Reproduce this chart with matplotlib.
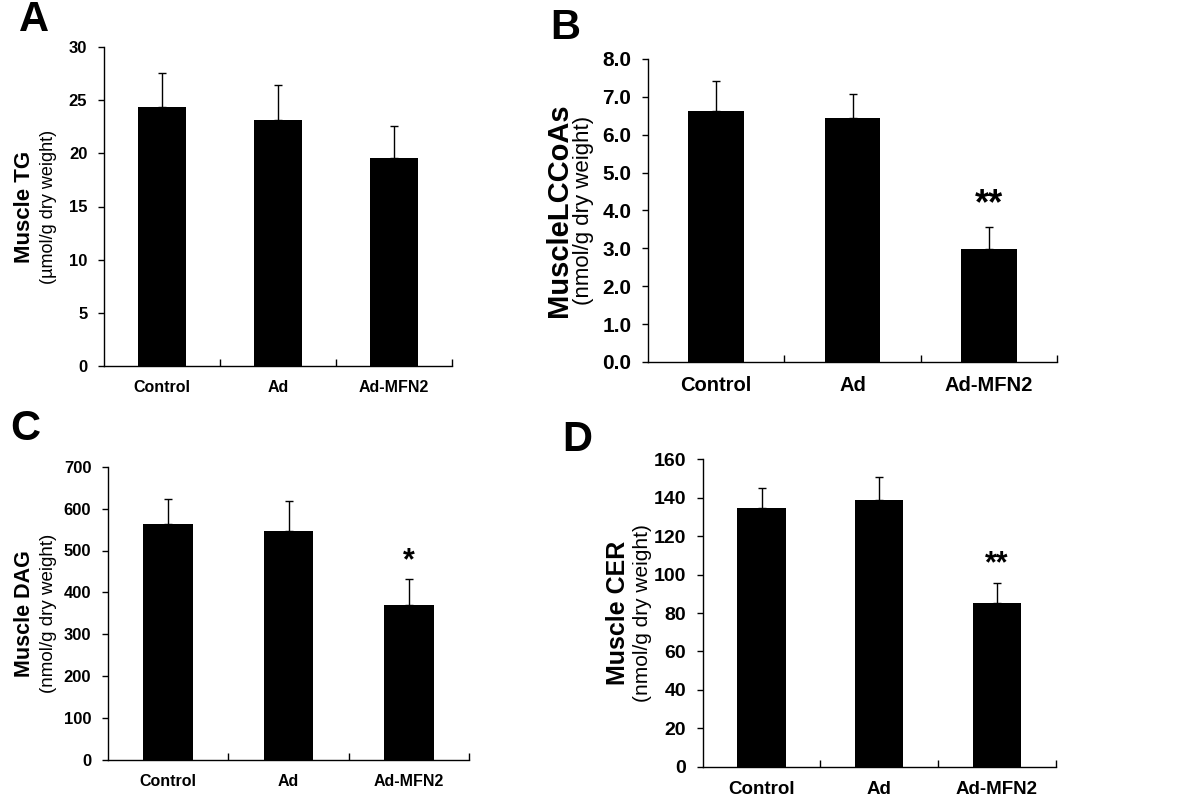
import numpy as np
import matplotlib
matplotlib.use("Agg")
import matplotlib.pyplot as plt

plt.rcParams['font.family'] = ['Liberation Sans', 'DejaVu Sans']

groups = ["Control", "Ad", "Ad-MFN2"]

# values (mean, upper SE)
tg_mean = [24.4, 23.1, 19.6]
tg_err = [3.2, 3.3, 3.0]
lccoa_mean = [6.63, 6.44, 2.99]
lccoa_err = [0.78, 0.64, 0.57]
dag_mean = [563, 546, 369]
dag_err = [60, 72, 63]
cer_mean = [134.5, 138.8, 85.4]
cer_err = [10.7, 12.0, 10.1]

sig_lccoa = ["", "", "**"]
sig_dag = ["", "", "*"]
sig_cer = ["", "", "**"]

fig = plt.figure(figsize=(12, 8.07), dpi=100)


def panel(rect, means, errs, sig, ymax, ystep, fmt, main, sub, letter, letter_xy,
          tick_fs, xlab_fs, main_fs, sub_fs, lab_x, sig_fs, sig_off):
    ax = fig.add_axes(rect)
    x = np.arange(len(groups)) + 0.5
    ax.bar(x, means, width=0.41, color="black", zorder=2)
    ax.errorbar(x, means, yerr=[np.zeros(len(errs)), errs], fmt="none",
                ecolor="black", elinewidth=1.0, capsize=3, capthick=1.0, zorder=1)
    ax.set_xlim(0, 3)
    ax.set_ylim(0, ymax)
    yt = np.arange(0, ymax + ystep / 2, ystep)
    ax.set_yticks(yt)
    ax.set_yticklabels([fmt.format(v) for v in yt], fontsize=tick_fs, fontweight="bold")
    ax.set_xticks(x)
    ax.set_xticklabels(groups, fontsize=xlab_fs, fontweight="bold")
    ax.tick_params(axis="x", length=0, pad=10)
    ax.set_xticks([1, 2, 3], minor=True)
    ax.tick_params(axis="x", which="minor", length=5, direction="in", width=1)
    ax.tick_params(axis="y", length=4, width=1, pad=8)
    for s in ["top", "right"]:
        ax.spines[s].set_visible(False)
    for s in ["left", "bottom"]:
        ax.spines[s].set_linewidth(1.0)
    for xi, m, e, s in zip(x, means, errs, sig):
        if s:
            ax.annotate(s, (xi, m + e), xytext=(0, sig_off), textcoords="offset points",
                        ha="center", va="center", fontsize=sig_fs, fontweight="bold")
    ax.text(lab_x[0], 0.5, main, transform=ax.transAxes, rotation=90, ha="center",
            va="center", fontsize=main_fs, fontweight="bold")
    ax.text(lab_x[1], 0.5, sub, transform=ax.transAxes, rotation=90, ha="center",
            va="center", fontsize=sub_fs)
    fig.text(letter_xy[0] / 1200, 1 - letter_xy[1] / 807, letter, ha="center",
             va="center", fontsize=30, fontweight="bold")
    return ax


panel([104 / 1200, 1 - 366 / 807, 348 / 1200, 319 / 807], tg_mean, tg_err, ["", "", ""],
      30, 5, "{:.0f}", "Muscle TG", "(\u00b5mol/g dry weight)", "A", (34, 20),
      12, 11.5, 16, 13, ((25 - 104) / 348, (49 - 104) / 348), 22, 10)

panel([648 / 1200, 1 - 362 / 807, 409 / 1200, 303 / 807], lccoa_mean, lccoa_err, sig_lccoa,
      8, 1, "{:.1f}", "MuscleLCCoAs", "(nmol/g dry weight)", "B", (565, 28),
      15, 14.5, 21, 16, ((559 - 648) / 409, (584 - 648) / 409), 26, 16)

panel([108 / 1200, 1 - 760 / 807, 361 / 1200, 293.3 / 807], dag_mean, dag_err, sig_dag,
      700, 100, "{:.0f}", "Muscle DAG", "(nmol/g dry weight)", "C", (25, 429),
      12, 11.5, 15.5, 13.5, ((25 - 108) / 361, (49 - 108) / 361), 22, 13)

panel([702.7 / 1200, 1 - 766.7 / 807, 353 / 1200, 307.4 / 807], cer_mean, cer_err, sig_cer,
      160, 20, "{:.0f}", "Muscle CER", "(nmol/g dry weight)", "D", (577, 440),
      14, 13.5, 18, 15, ((618 - 702.7) / 353, (642 - 702.7) / 353), 22, 14)

fig.savefig("out.png", dpi=100)
